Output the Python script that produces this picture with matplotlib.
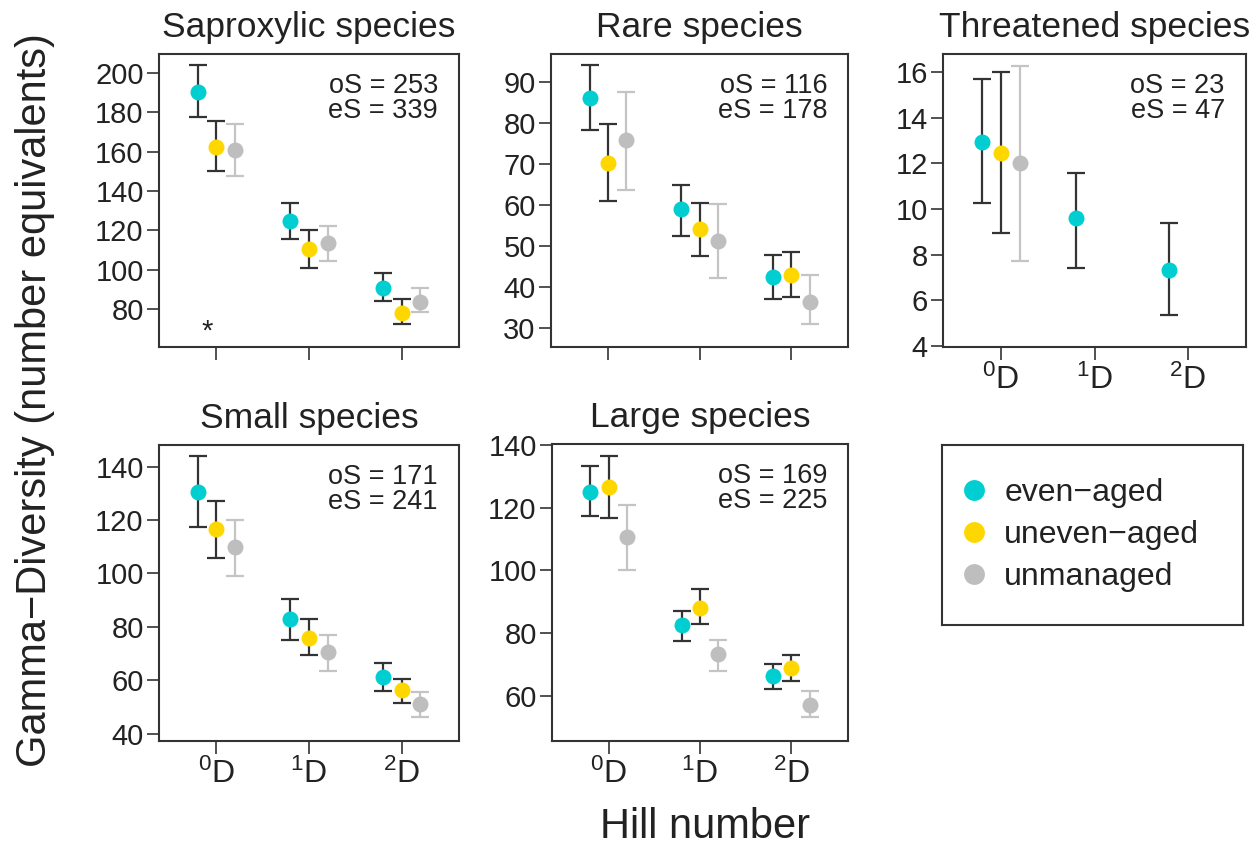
import numpy as np
import matplotlib
matplotlib.use("Agg")
import matplotlib.pyplot as plt
from matplotlib.lines import Line2D

plt.rcParams['font.family'] = ['Liberation Sans', 'DejaVu Sans']
plt.rcParams['mathtext.fontset'] = 'custom'
plt.rcParams['mathtext.rm'] = 'Liberation Sans'
plt.rcParams['mathtext.it'] = 'Liberation Sans:italic'

nan = np.nan

hill = [r'$^{0}$D', r'$^{1}$D', r'$^{2}$D']
groups = ['even\u2212aged', 'uneven\u2212aged', 'unmanaged']
colors = ['#00CED1', '#FFD700', '#BEBEBE']
barcols = ['#333333', '#333333', '#C4C4C4']

# rows: even-aged, uneven-aged, unmanaged; columns: 0D, 1D, 2D
sapro_mean = [[190.4, 125.0, 90.7], [162.5, 110.6, 78.3], [160.8, 113.5, 83.9]]
sapro_lo = [[177.4, 115.5, 84.0], [150.3, 101.0, 72.6], [147.6, 104.5, 78.8]]
sapro_hi = [[203.9, 133.7, 98.2], [175.5, 120.2, 85.2], [174.0, 122.4, 90.8]]

rare_mean = [[86.1, 59.0, 42.4], [70.4, 54.2, 43.0], [75.8, 51.2, 36.5]]
rare_lo = [[78.4, 52.5, 37.1], [61.1, 47.6, 37.6], [63.6, 42.3, 31.1]]
rare_hi = [[94.2, 65.0, 47.9], [79.8, 60.5, 48.7], [87.6, 60.3, 42.9]]

threat_mean = [[12.96, 9.6, 7.33], [12.48, nan, nan], [12.04, nan, nan]]
threat_lo = [[10.25, 7.43, 5.36], [8.97, nan, nan], [7.73, nan, nan]]
threat_hi = [[15.7, 11.6, 9.38], [16.0, nan, nan], [16.29, nan, nan]]

small_mean = [[130.6, 82.8, 61.3], [116.5, 75.9, 56.3], [110.0, 70.6, 50.9]]
small_lo = [[117.5, 75.0, 56.0], [105.9, 69.6, 51.5], [99.1, 63.5, 46.3]]
small_hi = [[144.0, 90.3, 66.5], [127.3, 82.9, 60.6], [120.0, 76.9, 55.6]]

large_mean = [[125.1, 82.6, 66.4], [126.4, 88.2, 69.0], [110.6, 73.6, 57.4]]
large_lo = [[117.2, 77.6, 62.4], [116.6, 82.9, 64.9], [100.1, 68.0, 53.4]]
large_hi = [[133.1, 87.2, 70.2], [136.5, 94.0, 73.0], [120.9, 77.8, 61.7]]

obs_S = [253, 116, 23, 171, 169]
est_S = [339, 178, 47, 241, 225]

W, H = 1256, 855
fig = plt.figure(figsize=(W / 100, H / 100), dpi=100)

def box(l, t, r, b):
    return [l / W, 1 - b / H, (r - l) / W, (b - t) / H]

panels = [
    ('Saproxylic species', sapro_mean, sapro_lo, sapro_hi, box(159, 54, 459, 347),
     (60.9, 209.5), np.arange(80, 201, 20), False),
    ('Rare species', rare_mean, rare_lo, rare_hi, box(551, 54, 848, 347),
     (25.4, 96.9), np.arange(30, 91, 10), False),
    ('Threatened species', threat_mean, threat_lo, threat_hi, box(943, 54, 1246, 347),
     (3.95, 16.8), np.arange(4, 17, 2), True),
    ('Small species', small_mean, small_lo, small_hi, box(159, 445, 459, 741),
     (37.2, 148.1), np.arange(40, 141, 20), True),
    ('Large species', large_mean, large_lo, large_hi, box(552, 444, 848, 741),
     (45.8, 140.2), np.arange(60, 141, 20), True),
]

x = np.arange(1, 4)
offsets = [-0.2, 0.0, 0.2]
dark = '#333333'
txt = '#222222'

for i, (title, mean, lo, hi, pos, ylim, yt, xlab) in enumerate(panels):
    ax = fig.add_axes(pos)
    for g in range(3):
        m = np.array(mean[g])
        err = np.vstack([m - np.array(lo[g]), np.array(hi[g]) - m])
        ax.errorbar(x + offsets[g], m, yerr=err, fmt='none', ecolor=barcols[g],
                    elinewidth=1.6, capsize=6.5, capthick=1.6, zorder=2)
    for g in range(3):
        ax.plot(x + offsets[g], mean[g], 'o', color=colors[g], markersize=11.5,
                markeredgewidth=0, zorder=3)
    ax.set_xlim(0.38, 3.62)
    ax.set_ylim(*ylim)
    ax.set_yticks(yt)
    ax.set_xticks(x)
    ax.set_xticklabels(hill if xlab else [])
    ax.tick_params(axis='both', length=9, width=1.2, color=dark, labelsize=21,
                   labelcolor=txt)
    ax.tick_params(axis='y', pad=2)
    ax.tick_params(axis='x', pad=4, labelsize=23)
    for s in ax.spines.values():
        s.set_linewidth(1.5)
        s.set_color(dark)
    ax.set_title(title, fontsize=25.5, pad=12, color=txt)
    ax.text(0.93, 0.935, 'oS = %d\neS = %d' % (obs_S[i], est_S[i]),
            transform=ax.transAxes, ha='right', va='top', fontsize=19.5,
            color=txt, linespacing=0.95)
    if i == 0:
        ax.text(0.9, 68.7, '*', ha='center', va='center', fontsize=21, color=txt)

# legend panel
lax = fig.add_axes(box(942, 445, 1243, 625))
lax.set_xticks([])
lax.set_yticks([])
for s in lax.spines.values():
    s.set_linewidth(1.5)
    s.set_color(dark)
handles = [Line2D([], [], marker='o', linestyle='none', color=c, markersize=15,
                  markeredgewidth=0) for c in colors]
lax.legend(handles, groups, loc='center left', frameon=False, fontsize=23,
           handlelength=1.2, handletextpad=0.35, labelspacing=0.38,
           borderaxespad=0.1, borderpad=0.3, labelcolor=txt)

fig.text(35 / W, 1 - 400 / H, 'Gamma\u2212Diversity (number equivalents)',
         rotation=90, ha='center', va='center', fontsize=30, color=txt)
fig.text(705 / W, 1 - 827 / H, 'Hill number', ha='center', va='center',
         fontsize=30, color=txt)

fig.savefig('out.png', dpi=100)
